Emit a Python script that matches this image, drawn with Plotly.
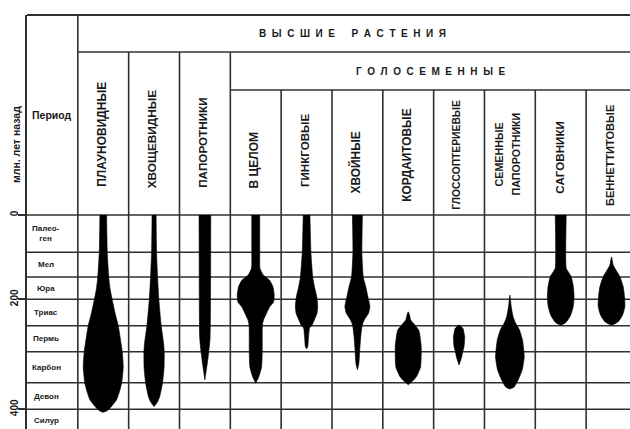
import numpy as np
import plotly.graph_objects as go

# ---------------- DATA ----------------
PERIODS = ["Палео-<br>ген", "Мел", "Юра", "Триас", "Пермь", "Карбон", "Девон", "Силур"]
PERIOD_BASE_MA = [67, 137, 200, 240, 285, 350, 400, 440]   # lower boundary of each period, Ma
AXIS_TICKS_MA = [0, 200, 400]

GROUPS = ["ПЛАУНОВИДНЫЕ", "ХВОЩЕВИДНЫЕ", "ПАПОРОТНИКИ", "В ЦЕЛОМ", "ГИНКГОВЫЕ",
          "ХВОЙНЫЕ", "КОРДАИТОВЫЕ", "ГЛОССОПТЕРИЕВЫЕ", "СЕМЕННЫЕ ПАПОРОТНИКИ",
          "САГОВНИКИ", "БЕННЕТТИТОВЫЕ"]

# relative diversity (spindle width) through time, Ma
LYCO_MA = [0, 67, 137, 169, 200, 221, 240, 285, 317, 350, 367, 382, 395, 402.6, 405.6]
LYCO_W = [6.7, 8, 11, 13.5, 17.7, 23.7, 30, 38, 40, 37, 32.3, 26.7, 16, 7.7, 0]
EQUI_MA = [0, 68, 137, 202, 240, 270, 285, 317, 350, 377, 386, 395]
EQUI_W = [4, 5, 7, 9.7, 14.3, 19, 20.3, 20, 17, 11, 7, 0]
FERN_MA = [0, 200, 262, 296, 344]
FERN_W = [11.7, 11.2, 10.3, 6.5, 0]
GYMN_MA = [0, 67, 112, 131, 146, 164, 188, 204, 211, 221, 231, 239, 285, 317, 338, 351]
GYMN_W = [8, 8, 8.5, 15, 27.7, 34.3, 37, 35.7, 28.3, 21.7, 15.7, 13.3, 13, 11.7, 6, 0]
GINK_MA = [0, 68, 137, 164, 195, 211, 221, 231, 239, 244, 259, 277, 280]
GINK_W = [6.7, 8.7, 12.3, 15.7, 20.7, 22.3, 21, 15.7, 11, 6, 4, 2.3, 0]
CONI_MA = [0, 67, 137, 164, 195, 211, 221, 231, 239, 259, 282, 309, 323]
CONI_W = [10, 9, 11.7, 16.7, 21.3, 25, 22.3, 14, 9.7, 6.7, 4.7, 3, 0]
CORD_MA = [219, 225, 231, 236, 242, 247, 253, 276, 317, 337, 344, 354]
CORD_W = [0, 3, 4.7, 10, 16, 20.7, 22.7, 26, 24.7, 16.7, 11.3, 0]
GLOS_MA = [239, 245, 253, 259, 276, 288, 296, 313]
GLOS_W = [0, 8, 10, 11.3, 10, 6.7, 5.3, 0]
SEED_MA = [188, 211, 226, 236, 247, 265, 296, 323, 344, 358, 362]
SEED_W = [0, 2.7, 6.3, 11.3, 19, 25.3, 28.7, 24.7, 16.7, 8.7, 0]
CYCA_MA = [0, 112, 122, 136, 164, 193, 211, 224, 234, 237, 239]
CYCA_W = [11, 11, 15, 21, 25.3, 26.7, 25, 20, 11.7, 7, 0]
BENN_MA = [80, 103, 117, 136, 164, 193, 211, 224, 234, 237, 239]
BENN_W = [0, 3.3, 8.7, 16.7, 23.3, 26, 26.7, 22, 13.3, 7, 0]

SERIES = [(LYCO_MA, LYCO_W), (EQUI_MA, EQUI_W), (FERN_MA, FERN_W), (GYMN_MA, GYMN_W),
          (GINK_MA, GINK_W), (CONI_MA, CONI_W), (CORD_MA, CORD_W), (GLOS_MA, GLOS_W),
          (SEED_MA, SEED_W), (CYCA_MA, CYCA_W), (BENN_MA, BENN_W)]

# ---------------- LAYOUT / SCALE ----------------
W, H = 630, 429
ML, MT = 27, 15
COL_UNITS = 50.83                       # width units per column
ROW_H = [37.3, 24.7, 22.3, 26.4, 26.0, 31.0, 26.6, 21.5]   # drawn heights of the period rows
EDGES = np.concatenate([[0], np.cumsum(ROW_H)])
MA_EDGES = np.array([0] + PERIOD_BASE_MA, float)
Y_TOP, Y_BOT = -200, 214
X_MIN = -0.5
X_MAX = X_MIN + (W - ML) / COL_UNITS
HEAD1, HEAD2 = -163, -125


def to_y(ma):
    """non-uniform geological time scale of the chart"""
    return np.interp(np.asarray(ma, float), MA_EDGES, EDGES)


LINE = "#303030"
TXT = "#1a1a1a"
FONT = "Liberation Sans, Arial, sans-serif"

fig = go.Figure()

for i, (ma, w) in enumerate(SERIES):
    c = i + 1
    y = to_y(ma)
    half = np.asarray(w, float) / 2 / COL_UNITS
    xs = np.concatenate([c + half, (c - half)[::-1]])
    ys = np.concatenate([y, y[::-1]])
    fig.add_trace(go.Scatter(x=xs, y=ys, mode="lines", fill="toself", name=GROUPS[i],
                             fillcolor="black", line=dict(color="black", width=0.6,
                                                          shape="spline", smoothing=0.5),
                             hoverinfo="skip", showlegend=False))

shapes = []
lw = 1.6
# period boundaries
for e in EDGES[:-1]:
    shapes.append(dict(type="line", xref="x", yref="y", x0=X_MIN, x1=X_MAX, y0=e, y1=e,
                       line=dict(color=LINE, width=lw), layer="below"))
# header horizontals
shapes.append(dict(type="line", xref="paper", yref="paper", x0=0, x1=1, y0=1, y1=1,
                   line=dict(color=LINE, width=2.2)))
shapes.append(dict(type="line", xref="x", yref="y", x0=0.5, x1=X_MAX, y0=HEAD1, y1=HEAD1,
                   line=dict(color=LINE, width=lw)))
shapes.append(dict(type="line", xref="x", yref="y", x0=3.5, x1=X_MAX, y0=HEAD2, y1=HEAD2,
                   line=dict(color=LINE, width=lw)))
# column separators
for k in range(1, 12):
    xk = k - 0.5
    top = Y_TOP if k == 1 else (HEAD1 if k <= 4 else HEAD2)
    shapes.append(dict(type="line", xref="x", yref="y", x0=xk, x1=xk, y0=top, y1=Y_BOT,
                       line=dict(color=LINE, width=lw), layer="below"))

ann = []
# period names
for i, p in enumerate(PERIODS):
    yc = (EDGES[i] + EDGES[i + 1]) / 2
    ann.append(dict(x=-0.125, y=yc, text=p, showarrow=False, xref="x", yref="y",
                    font=dict(family=FONT, size=8, color=TXT, weight="bold"),
                    xanchor="center", yanchor="middle"))
# group names (rotated)
LABEL_Y = [-80.5, -75.7, -72.1, -55.3, -64.5, -53, -59.5, -60.3, -61, -58, -59.5]
LABEL_SIZE = [12, 11.8, 11.7, 12, 11.6, 11.9, 11.85, 10.3, 10.7, 11.65, 11.05]
DX = -2 / COL_UNITS
for i, g in enumerate(GROUPS):
    lines = g.split(" ") if i == 8 else [g]
    n = len(lines)
    for j, t in enumerate(lines):
        off = (j - (n - 1) / 2) * 17 / COL_UNITS
        ann.append(dict(x=i + 1 + DX + off, y=LABEL_Y[i], text=t, showarrow=False,
                        xref="x", yref="y", textangle=-90,
                        font=dict(family=FONT, size=LABEL_SIZE[i], color=TXT, weight="bold"),
                        xanchor="center", yanchor="middle"))


def spaced(s, gap="\u00a0\u00a0"):
    return gap.join(ch if ch != " " else "\u00a0\u00a0" for ch in s)


ann.append(dict(x=5.91, y=-182, text=spaced("ВЫСШИЕ РАСТЕНИЯ"), showarrow=False,
                xref="x", yref="y", font=dict(family=FONT, size=10, color=TXT, weight="bold")))
ann.append(dict(x=7.43, y=-143.5, text=spaced("ГОЛОСЕМЕННЫЕ"), showarrow=False,
                xref="x", yref="y", font=dict(family=FONT, size=10, color=TXT, weight="bold")))
ann.append(dict(x=-0.44, y=-100, text="Период", showarrow=False, xref="x", yref="y",
                xanchor="left", font=dict(family=FONT, size=10.5, color=TXT, weight="bold")))
ann.append(dict(x=-11 / (W - ML), y=-70, text="млн. лет назад", showarrow=False,
                xref="paper", yref="y", textangle=-90, xanchor="center", yanchor="middle",
                font=dict(family=FONT, size=10.5, color=TXT, weight="bold")))

fig.update_layout(
    width=W, height=H, margin=dict(l=ML, r=0, t=MT, b=0, autoexpand=False),
    paper_bgcolor="white", plot_bgcolor="white",
    shapes=shapes, annotations=ann, showlegend=False,
    xaxis=dict(range=[X_MIN, X_MAX], visible=False, fixedrange=True),
    yaxis=dict(range=[Y_BOT, Y_TOP], showgrid=False, zeroline=False, automargin=False,
               showline=True, linecolor=LINE, linewidth=lw,
               ticks="outside", ticklen=7, tickwidth=lw, tickcolor=LINE,
               tickvals=list(to_y(AXIS_TICKS_MA)), ticktext=[str(t) for t in AXIS_TICKS_MA],
               tickangle=-90, ticklabelstandoff=-4,
               tickfont=dict(family=FONT, size=10, color=TXT, weight="bold"),
               fixedrange=True),
)

fig.write_html("out.html", config={"displayModeBar": False},
               post_script="document.body.style.margin='0';document.body.style.padding='0';")
